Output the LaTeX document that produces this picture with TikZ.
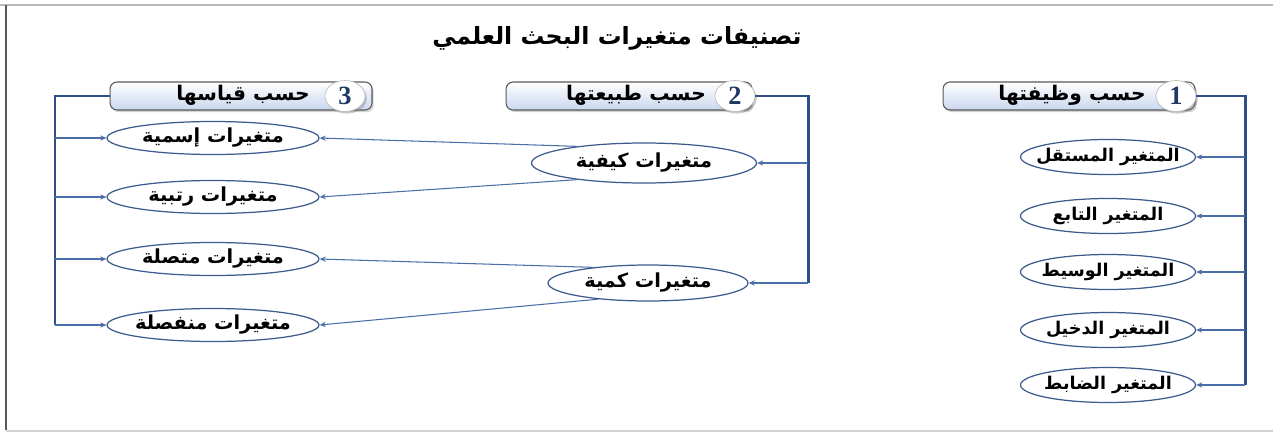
\documentclass[tikz,border=0pt]{standalone}
\usepackage{fontspec}
\TeXXeTstate=1
\newfontfamily\arabicfont[Script=Arabic]{DejaVu Sans}
\newfontfamily\numfont{Liberation Serif}
\usetikzlibrary{shapes.geometric,arrows.meta,shadows}
\newcommand{\artxt}[1]{\makebox[0pt]{\arabicfont\bfseries\beginR #1\endR}}
\definecolor{busblue}{HTML}{2F4F8A}
\definecolor{linkblue}{HTML}{4A6EA8}
\definecolor{ovalline}{HTML}{3C5A8C}
\definecolor{headblue}{HTML}{C9D7EE}
\definecolor{numblue}{HTML}{1F3864}
\tikzset{
  headbox/.style={draw=gray!70!black, rounded corners=4pt, top color=white,
    bottom color=headblue, minimum height=0.56cm, line width=0.6pt,
    drop shadow={shadow xshift=1pt, shadow yshift=-1.2pt, opacity=0.35}},
  headlab/.style={inner sep=0pt, font=\fontsize{11.5}{13}\selectfont},
  numcirc/.style={ellipse, draw=gray!50, fill=white, minimum width=0.8cm,
    minimum height=0.62cm, inner sep=0pt,
    drop shadow={shadow xshift=1pt, shadow yshift=-1.2pt, opacity=0.4},
    font=\numfont\bfseries\fontsize{15}{15}\selectfont, text=numblue},
  varoval/.style={ellipse, draw=ovalline, line width=0.7pt, fill=white,
    inner sep=0pt, minimum height=0.66cm, font=\fontsize{11}{13}\selectfont},
  roleoval/.style={varoval, minimum width=3.5cm, minimum height=0.7cm,
    font=\fontsize{10}{12}\selectfont},
  bus/.style={draw=busblue, line width=1.7pt},
  branch/.style={draw=linkblue, line width=0.6pt,
    -{Stealth[length=3.5pt,width=3pt]}},
}
\begin{document}
\begin{tikzpicture}[x=0.02cm, y=-0.02cm]
  \useasboundingbox (0,0) rectangle (1273,433);
  % frame
  \draw[gray!55, line width=0.8pt] (0,5) -- (1273,5);
  \draw[gray!70!black, line width=0.8pt] (6,5) -- (6,430);
  \draw[gray!35, line width=1.4pt] (6,431) -- (1273,431);

  \node (title) at (617,38) {\fontsize{13.5}{15}\selectfont\artxt{تصنيفات متغيرات البحث العلمي}};

  % headers
  \node[headbox, minimum width=5.04cm] (box1) at (1069,96) {};
  \node[headlab] (lab1) at (1072,95) {\artxt{حسب وظيفتها}};
  \node[numcirc] (num1) at (1176,96) {1};
  \node[headbox, minimum width=4.92cm] (box2) at (629,96) {};
  \node[headlab] (lab2) at (636,95) {\artxt{حسب طبيعتها}};
  \node[numcirc] (num2) at (735,96) {2};
  \node[headbox, minimum width=5.24cm] (box3) at (241,96) {};
  \node[headlab] (lab3) at (243,95) {\artxt{حسب قياسها}};
  \node[numcirc] (num3) at (345,96) {3};

  % by function
  \node[roleoval] (mustaqil) at (1108,157) {\artxt{المتغير المستقل}};
  \node[roleoval] (tabi) at (1108,216) {\artxt{المتغير التابع}};
  \node[roleoval] (wasit) at (1108,272) {\artxt{المتغير الوسيط}};
  \node[roleoval] (dakhil) at (1108,330) {\artxt{المتغير الدخيل}};
  \node[roleoval] (dabit) at (1108,385) {\artxt{المتغير الضابط}};

  % by nature
  \node[varoval, minimum width=4.5cm, minimum height=0.8cm] (kayfi) at (644,163) {\artxt{متغيرات كيفية}};
  \node[varoval, minimum width=4.0cm, minimum height=0.72cm] (kammi) at (648,283) {\artxt{متغيرات كمية}};

  % by measurement
  \node[varoval, minimum width=4.24cm] (ismi) at (213,138) {\artxt{متغيرات إسمية}};
  \node[varoval, minimum width=4.24cm] (rutbi) at (213,197) {\artxt{متغيرات رتبية}};
  \node[varoval, minimum width=4.24cm] (muttasil) at (213,259) {\artxt{متغيرات متصلة}};
  \node[varoval, minimum width=4.24cm] (munfasil) at (213,325) {\artxt{متغيرات منفصلة}};

  % buses
  \coordinate (bus1) at (1245,96);
  \coordinate (bus2) at (808,96);
  \coordinate (bus3) at (55,96);
  \draw[bus] (num1.east) -- (bus1) -- (bus1 |- dabit);
  \draw[bus] (num2.east) -- (bus2) -- (bus2 |- kammi);
  \draw[bus] (box3.west) -- (bus3) -- (bus3 |- munfasil);

  \foreach \v in {mustaqil,tabi,wasit,dakhil,dabit}
    \draw[branch] (bus1 |- \v) -- (\v.east);
  \foreach \v in {kayfi,kammi}
    \draw[branch] (bus2 |- \v) -- (\v.east);
  \foreach \v in {ismi,rutbi,muttasil,munfasil}
    \draw[branch] (bus3 |- \v) -- (\v.west);

  % links between groups
  \draw[branch] (kayfi.166) -- (ismi.east);
  \draw[branch] (kayfi.194) -- (rutbi.east);
  \draw[branch] (kammi.164) -- (muttasil.east);
  \draw[branch] (kammi.198) -- (munfasil.east);
\end{tikzpicture}
\end{document}
